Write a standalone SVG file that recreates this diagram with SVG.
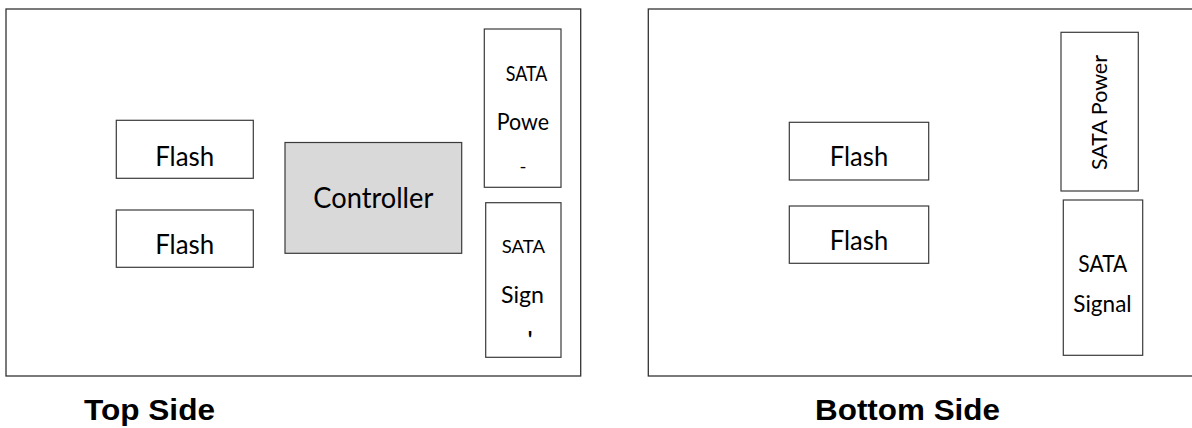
<svg xmlns="http://www.w3.org/2000/svg" width="1192" height="428" viewBox="0 0 1192 428">
<style>
.board{fill:#ffffff;stroke:#333333;stroke-width:1.3}
.box{fill:#ffffff;stroke:#3a3a3a;stroke-width:1.2}
.ctrl{fill:#d9d9d9;stroke:#3a3a3a;stroke-width:1.2}
.t{font-family:Lato,"Open Sans","Liberation Sans",sans-serif;fill:#000000}
.cap{font-family:"Liberation Sans",Arial,sans-serif;font-weight:bold;fill:#000000;font-size:30px}
</style>
<rect width="1192" height="428" fill="#ffffff"/>
<g id="top-side">
  <rect id="top-board" class="board" x="6" y="9" width="574.7" height="367"/>
  <g id="top-flash-1">
    <rect class="box" x="116.3" y="120.3" width="137" height="58"/>
    <text class="t" x="184.7" y="165.7" font-size="27" text-anchor="middle" textLength="59" lengthAdjust="spacingAndGlyphs">Flash</text>
  </g>
  <g id="top-flash-2">
    <rect class="box" x="116.3" y="210" width="137" height="57.3"/>
    <text class="t" x="184.7" y="254.3" font-size="27" text-anchor="middle" textLength="59" lengthAdjust="spacingAndGlyphs">Flash</text>
  </g>
  <g id="controller">
    <rect class="ctrl" x="285" y="142.5" width="176.7" height="110.8"/>
    <text class="t" x="313.3" y="208.3" font-size="28" textLength="120" lengthAdjust="spacingAndGlyphs">Controller</text>
  </g>
  <g id="top-sata-power">
    <rect class="box" x="484.3" y="29" width="76.7" height="158.3"/>
    <text class="t" x="505.7" y="81" font-size="21" textLength="41.7" lengthAdjust="spacingAndGlyphs">SATA</text>
    <text class="t" x="496.7" y="130" font-size="22.5" textLength="52.3" lengthAdjust="spacingAndGlyphs">Powe</text>
    <text class="t" x="519.5" y="173" font-size="17" textLength="7" lengthAdjust="spacingAndGlyphs">-</text>
  </g>
  <g id="top-sata-signal">
    <rect class="box" x="485.7" y="202.7" width="75.3" height="154.6"/>
    <text class="t" x="501.7" y="253.3" font-size="17.5" textLength="43.3" lengthAdjust="spacingAndGlyphs">SATA</text>
    <text class="t" x="501" y="303.3" font-size="22.5" textLength="43" lengthAdjust="spacingAndGlyphs">Sign</text>
    <text class="t" x="527.8" y="348" font-size="22" font-weight="bold">'</text>
  </g>
  <text id="top-caption" class="cap" x="84" y="420" textLength="131" lengthAdjust="spacingAndGlyphs">Top Side</text>
</g>
<g id="bottom-side">
  <rect id="bottom-board" class="board" x="648.3" y="9" width="560" height="367"/>
  <g id="bottom-flash-1">
    <rect class="box" x="789.3" y="122.3" width="139.4" height="57.7"/>
    <text class="t" x="859" y="166" font-size="27" text-anchor="middle" textLength="58.3" lengthAdjust="spacingAndGlyphs">Flash</text>
  </g>
  <g id="bottom-flash-2">
    <rect class="box" x="789.3" y="206" width="139.4" height="57.3"/>
    <text class="t" x="859" y="250" font-size="27" text-anchor="middle" textLength="58.3" lengthAdjust="spacingAndGlyphs">Flash</text>
  </g>
  <g id="bottom-sata-power">
    <rect class="box" x="1061" y="32.3" width="77.3" height="158.7"/>
    <text class="t" transform="translate(1106.7,112.5) rotate(-90)" x="0" y="0" font-size="21.5" text-anchor="middle" textLength="115" lengthAdjust="spacingAndGlyphs">SATA Power</text>
  </g>
  <g id="bottom-sata-signal">
    <rect class="box" x="1063.3" y="200" width="79.4" height="155.3"/>
    <text class="t" x="1102.8" y="271.7" font-size="22.5" text-anchor="middle" textLength="49" lengthAdjust="spacingAndGlyphs">SATA</text>
    <text class="t" x="1102.5" y="311.7" font-size="23" text-anchor="middle" textLength="58.3" lengthAdjust="spacingAndGlyphs">Signal</text>
  </g>
  <text id="bottom-caption" class="cap" x="815" y="420" textLength="185" lengthAdjust="spacingAndGlyphs">Bottom Side</text>
</g>
<g id="connectors"/>
</svg>
